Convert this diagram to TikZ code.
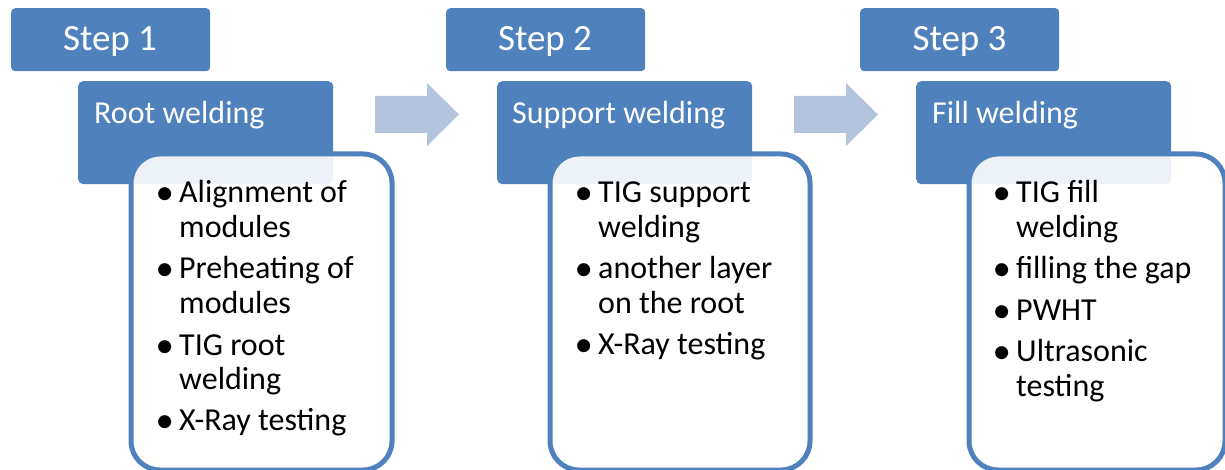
\documentclass[tikz,border=0pt]{standalone}
\usepackage{fontspec}
\setmainfont{Carlito}
\definecolor{accent}{HTML}{4F81BD}
\definecolor{arrowfill}{HTML}{B4C4DF}
\newcommand\bul{\makebox[21pt][l]{\hspace{-2.5pt}\raisebox{-2pt}{\scalebox{1.15}{\textbullet}}}}
\begin{document}
\begin{tikzpicture}[x=1pt,y=-1pt,
  stepbox/.style={fill=accent, rounded corners=4pt, inner sep=0pt, anchor=north west,
    minimum width=199pt, minimum height=63pt},
  titlebox/.style={fill=accent, rounded corners=5pt, inner sep=0pt, anchor=north west,
    minimum width=255pt, minimum height=103pt},
  listbox/.style={draw=accent, line width=5pt, fill=white, fill opacity=0.9,
    rounded corners=29pt, inner sep=0pt, anchor=north west, minimum height=316pt},
  steptext/.style={text=white, anchor=base, inner sep=0pt, font=\fontsize{37}{37}\selectfont},
  titletext/.style={text=white, anchor=base west, inner sep=0pt, font=\fontsize{32}{32}\selectfont},
  itemtext/.style={text=black, anchor=base west, inner sep=0pt, font=\fontsize{32}{32}\selectfont},
  blockarrow/.style={fill=arrowfill}
]
\useasboundingbox (0,0) rectangle (1225,470);

% step tabs
\node[stepbox] (s1) at (11,8) {};
\node[stepbox] (s2) at (446,8) {};
\node[stepbox] (s3) at (860,8) {};
\node[steptext] (s1t) at (110,50.5) {Step 1};
\node[steptext] (s2t) at (545,50.5) {Step 2};
\node[steptext] (s3t) at (959.5,50.5) {Step 3};

% stage headers
\node[titlebox] (h1) at (78,81) {};
\node[titlebox] (h2) at (497,81) {};
\node[titlebox] (h3) at (916,81) {};
\node[titletext] (h1t) at (94,123.5) {Root welding};
\node[titletext] (h2t) at (512,123.5) {Support welding};
\node[titletext] (h3t) at (932,123.5) {Fill welding};

% block arrows between stages
\fill[blockarrow] (375,96) -- (427,96) -- (427,83) -- (459,114.5) -- (427,146) -- (427,133) -- (375,133) -- cycle;
\fill[blockarrow] (794,96) -- (846,96) -- (846,83) -- (878,114.5) -- (846,146) -- (846,133) -- (794,133) -- cycle;

% detail panels
\node[listbox, minimum width=261pt] (b1) at (128.5,151.5) {};
\node[listbox, minimum width=260pt] (b2) at (547.5,151.5) {};
\node[listbox, minimum width=256pt] (b3) at (966.5,151.5) {};

% panel 1
\node[itemtext] (a1) at (158,203) {\bul Alignment of};
\node[itemtext] (a2) at (179,237.5) {modules};
\node[itemtext] (a3) at (158,278.5) {\bul Preheating of};
\node[itemtext] (a4) at (179,313) {modules};
\node[itemtext] (a5) at (158,355) {\bul TIG root};
\node[itemtext] (a6) at (179,389.5) {welding};
\node[itemtext] (a7) at (158,430.5) {\bul X-Ray testing};

% panel 2
\node[itemtext] (c1) at (577,203) {\bul TIG support};
\node[itemtext] (c2) at (598,237.5) {welding};
\node[itemtext] (c3) at (577,278.5) {\bul another layer};
\node[itemtext] (c4) at (598,313) {on the root};
\node[itemtext] (c5) at (577,354.5) {\bul X-Ray testing};

% panel 3
\node[itemtext] (d1) at (995,203) {\bul TIG fill};
\node[itemtext] (d2) at (1016,237.5) {welding};
\node[itemtext] (d3) at (995,278.5) {\bul filling the gap};
\node[itemtext] (d4) at (995,320) {\bul PWHT};
\node[itemtext] (d5) at (995,361.5) {\bul Ultrasonic};
\node[itemtext] (d6) at (1016,396) {testing};
\end{tikzpicture}
\end{document}
